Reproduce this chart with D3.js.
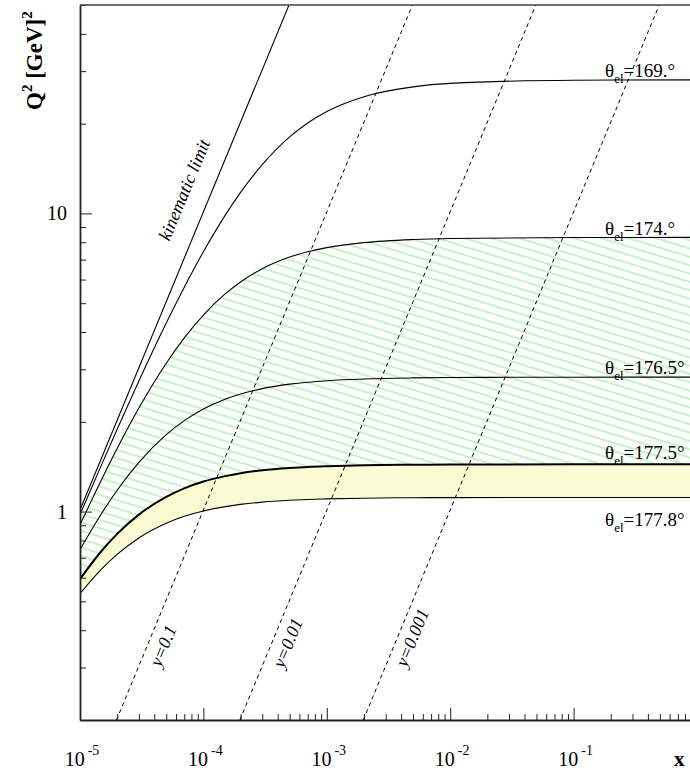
<!DOCTYPE html>
<html><head><meta charset="utf-8">
<script src="https://cdn.jsdelivr.net/npm/d3@7"></script>
<style>
body{margin:0;background:#fff;overflow:hidden;}
svg text{font-family:'Liberation Serif','DejaVu Serif',serif;fill:#000;}
</style></head><body>
<svg id="chart" width="690" height="773" font-family="Liberation Serif, DejaVu Serif, serif"></svg>
<script>
// ---- data ----
const xGrid   = [1e-5,1.5e-5,2e-5,3e-5,5e-5,7e-5,1e-4,1.5e-4,2e-4,3e-4,5e-4,7e-4,1e-3,2e-3,5e-3,1e-2,1e-1,1];
const q2_169  = [0.977,1.440,1.888,2.740,4.287,5.656,7.437,9.849,11.76,14.58,18.05,20.09,21.96,24.63,26.57,27.29,27.97,28.04];
const q2_174  = [0.902,1.284,1.628,2.224,3.145,3.824,4.563,5.370,5.890,6.523,7.137,7.436,7.678,7.981,8.174,8.241,8.302,8.308];
const q2_1765 = [0.745,0.987,1.179,1.463,1.812,2.019,2.208,2.381,2.478,2.584,2.675,2.716,2.747,2.785,2.808,2.816,2.823,2.824];
const q2_1775 = [0.594,0.739,0.842,0.977,1.121,1.197,1.261,1.315,1.345,1.375,1.400,1.412,1.420,1.430,1.436,1.438,1.440,1.440];
const q2_1778 = [0.531,0.643,0.719,0.816,0.914,0.964,1.005,1.039,1.057,1.076,1.091,1.098,1.103,1.109,1.113,1.114,1.115,1.115];
const angleLabels = ["169.°","174.°","176.5°","177.5°","177.8°"];
const kinX  = [1e-5, 5e-4];
const kinQ2 = [1.012, 50.6];
const yLineNames = ["y=0.1","y=0.01","y=0.001"];
const yLineX  = [[1.976e-5,4.941e-3],[1.976e-4,4.941e-2],[1.976e-3,0.4941]];
const yLineQ2 = [0.2, 50];
const yLabelX  = [4.7e-5, 4.8e-4, 4.9e-3];
const yLabelQ2 = [0.355, 0.363, 0.378];
const kinLabel = {x: 6.97e-5, q2: 12};
const xMajor = [1e-5,1e-4,1e-3,1e-2,1e-1,1];
const xTickExp = ["-5","-4","-3","-2","-1"];
const yMajor = [1,10];
const yTickLabels = ["1","10"];

// ---- layout ----
const FONT = "Liberation Serif, DejaVu Serif, serif";
const L = 80, R = 697, T = 5, B = 720;
const svg = d3.select("#chart");
const x = d3.scaleLog().domain([1e-5,1]).range([L,R]);
const y = d3.scaleLog().domain([0.2,50]).range([B,T]);

const defs = svg.append("defs");
defs.append("clipPath").attr("id","clip").append("rect")
  .attr("x",L).attr("y",T).attr("width",R-L).attr("height",B-T);
const pat = defs.append("pattern").attr("id","hatch")
  .attr("patternUnits","userSpaceOnUse").attr("width",20).attr("height",8)
  .attr("patternTransform","rotate(17)");
pat.append("line").attr("x1",0).attr("x2",20).attr("y1",4).attr("y2",4)
  .attr("stroke","#8fe88f").attr("stroke-width",1);

const g = svg.append("g").attr("clip-path","url(#clip)");
const idx = d3.range(xGrid.length);
const area = (lo, hi) => d3.area().curve(d3.curveMonotoneX)
  .x(i => x(xGrid[i])).y0(i => y(lo[i])).y1(i => y(hi[i]))(idx);
const line = arr => d3.line().curve(d3.curveMonotoneX)
  .x(i => x(xGrid[i])).y(i => y(arr[i]))(idx);

g.append("path").attr("d", area(q2_1778,q2_1775)).attr("fill","#fbfbd3");
g.append("path").attr("d", area(q2_1775,q2_174)).attr("fill","url(#hatch)");

const curves = [q2_169,q2_174,q2_1765,q2_1775,q2_1778];
curves.forEach((c,k) => {
  g.append("path").attr("d", line(c)).attr("fill","none")
   .attr("stroke","#000").attr("stroke-width", k===3 ? 2 : 1.1);
});
g.append("path").attr("d", d3.line()(kinX.map((v,i)=>[x(v),y(kinQ2[i])])))
  .attr("fill","none").attr("stroke","#000").attr("stroke-width",1.1);

yLineX.forEach(xs => {
  g.append("path").attr("d", d3.line()(xs.map((v,i)=>[x(v),y(yLineQ2[i])])))
   .attr("fill","none").attr("stroke","#000").attr("stroke-width",1)
   .attr("stroke-dasharray","4,3.5");
});

// ---- axes ----
const xMinor = [];
for (let e=-5;e<0;e++) for (let m=2;m<=9;m++) xMinor.push(m*Math.pow(10,e));
const yMinor = [];
for (let e=-1;e<2;e++) for (let m=2;m<=9;m++){ const v=m*Math.pow(10,e); if (v>=0.2 && v<=50) yMinor.push(v); }

function styleAxis(sel){ sel.selectAll("path,line").attr("stroke","#222"); sel.selectAll("text").remove(); }
svg.append("g").attr("transform",`translate(0,${B})`)
  .call(d3.axisBottom(x).tickValues(xMinor).tickSize(-6).tickSizeOuter(0).tickFormat(""))
  .call(styleAxis).select(".domain").attr("stroke-width",1.8);
svg.append("g").attr("transform",`translate(0,${B})`)
  .call(d3.axisBottom(x).tickValues(xMajor).tickSize(-12).tickSizeOuter(0).tickFormat(""))
  .call(styleAxis).select(".domain").remove();
svg.append("g").attr("transform",`translate(${L},0)`)
  .call(d3.axisLeft(y).tickValues(yMinor).tickSize(-6).tickSizeOuter(0).tickFormat(""))
  .call(styleAxis).select(".domain").attr("stroke-width",1.8);
svg.append("g").attr("transform",`translate(${L},0)`)
  .call(d3.axisLeft(y).tickValues(yMajor).tickSize(-12).tickSizeOuter(0).tickFormat(""))
  .call(styleAxis).select(".domain").remove();
svg.append("line").attr("x1",L).attr("x2",R).attr("y1",T).attr("y2",T)
  .attr("stroke","#444").attr("stroke-width",1.5);
svg.append("line").attr("x1",R).attr("x2",R).attr("y1",T).attr("y2",B)
  .attr("stroke","#444").attr("stroke-width",1.5);

// tick labels
xTickExp.forEach((ex,i) => {
  const t = svg.append("text").attr("x", x(xMajor[i])+2).attr("y",766)
    .attr("text-anchor","middle").attr("font-size",20).attr("font-family",FONT);
  t.append("tspan").text("10");
  t.append("tspan").attr("dx",3).attr("dy",-11).attr("font-size",14).text(ex);
});
yMajor.forEach((v,i) => {
  svg.append("text").attr("x", L-13).attr("y", y(v)+7).attr("font-family",FONT)
    .attr("text-anchor","end").attr("font-size",20).text(yTickLabels[i]);
});

// axis titles
const yt = svg.append("text").attr("transform","translate(42,110) rotate(-90)")
  .attr("font-size",23).attr("font-weight","bold").attr("font-family",FONT);
yt.append("tspan").text("Q");
yt.append("tspan").attr("dy",-10).attr("font-size",15).text("2");
yt.append("tspan").attr("dy",10).text(" [GeV]");
yt.append("tspan").attr("dy",-10).attr("font-size",15).text("2");
svg.append("text").attr("x",674).attr("y",766).attr("font-size",21).attr("font-family",FONT)
  .attr("font-weight","bold").text("x");

// angle labels
const plateau = [q2_169,q2_174,q2_1765,q2_1775,q2_1778].map(a => a[a.length-2]);
angleLabels.forEach((lab,i) => {
  const off = i===4 ? 29 : (i===3 ? -5 : -3);
  const t = svg.append("text").attr("x", x(0.18)).attr("y", y(plateau[i])+off)
    .attr("font-size",19).attr("font-family",FONT);
  t.append("tspan").text("θ");
  t.append("tspan").attr("dy",6).attr("font-size",13).text("el");
  t.append("tspan").attr("dy",-6).text("="+lab);
});

// rotated line labels
const ang = -Math.atan((y(1)-y(10))/(x(1e-4)-x(1e-5)))*180/Math.PI;
svg.append("text").attr("transform",`translate(${x(kinLabel.x)},${y(kinLabel.q2)}) rotate(${ang})`)
  .attr("text-anchor","middle").attr("dy","0.35em").attr("font-size",18).attr("font-family",FONT)
  .attr("font-style","italic").text("kinematic limit");
yLineNames.forEach((n,i) => {
  svg.append("text").attr("transform",`translate(${x(yLabelX[i])},${y(yLabelQ2[i])}) rotate(${ang})`)
    .attr("text-anchor","middle").attr("dy","0.35em").attr("font-size",18).attr("font-family",FONT)
    .attr("font-style","italic").text(n);
});
</script></body></html>
